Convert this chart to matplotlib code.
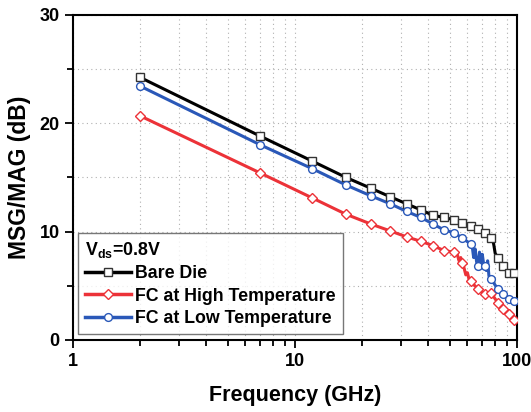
import matplotlib
matplotlib.use("Agg")
import matplotlib.pyplot as plt
from matplotlib.ticker import FixedLocator, FixedFormatter, LogLocator, NullFormatter

plt.rcParams['font.family'] = ['Liberation Sans', 'DejaVu Sans']
plt.rcParams['font.weight'] = 'bold'
plt.rcParams['mathtext.fontset'] = 'custom'
plt.rcParams['mathtext.bf'] = 'Liberation Sans:bold'
plt.rcParams['mathtext.rm'] = 'Liberation Sans:bold'

# marker points (every 5 GHz from 2 GHz)
freq_mk = [2, 7, 12, 17, 22, 27, 32, 37, 42, 47, 52, 57, 62, 67, 72, 77, 82, 87, 92, 97]
bare_mk = [24.25, 18.8, 16.5, 15.0, 14.0, 13.2, 12.55, 12.0, 11.5, 11.3,
           11.1, 10.8, 10.5, 10.2, 9.85, 9.45, 7.6, 6.8, 6.2, 6.2]
high_mk = [20.7, 15.4, 13.1, 11.6, 10.7, 10.05, 9.5, 9.1, 8.7, 8.25,
           8.1, 7.1, 5.4, 4.7, 4.25, 4.3, 3.45, 2.85, 2.35, 1.85]
low_mk = [23.45, 18.0, 15.8, 14.3, 13.3, 12.55, 11.85, 11.3, 10.7, 10.15,
          9.9, 9.4, 8.85, 6.8, 6.8, 5.6, 4.7, 4.25, 3.8, 3.6]

# extra trace points between markers (noisy part near the top end)
bare_xf = [78, 79, 80, 100]
bare_xv = [9.3, 8.7, 8.0, 6.2]
high_xf = [54, 55, 56, 58, 59, 60, 61, 100]
high_xv = [7.9, 7.3, 7.6, 6.6, 6.0, 6.2, 5.6, 1.6]
low_xf = [63, 64, 65, 66, 68, 69, 70, 71, 73, 74, 75, 100]
low_xv = [8.7, 7.6, 8.4, 7.2, 8.1, 6.9, 7.9, 7.0, 6.4, 7.3, 5.9, 3.4]

names = ['Bare Die', 'FC at High Temperature', 'FC at Low Temperature']
colors = ['black', '#ec3238', '#2a58b8']
edges = ['#333333', '#ec3238', '#2a58b8']
markers = ['s', 'D', 'o']
msizes = [5.6, 4.8, 5.6]

fig = plt.figure(figsize=(5.31, 4.12), dpi=100)
ax = fig.add_axes([0.137, 0.175, 0.836, 0.789])

series = [(bare_mk, bare_xf, bare_xv), (high_mk, high_xf, high_xv), (low_mk, low_xf, low_xv)]
for (mk, xf, xv), name, c, ec, m, ms in zip(series, names, colors, edges, markers, msizes):
    pts = sorted(list(zip(freq_mk, mk)) + list(zip(xf, xv)))
    ax.plot([p[0] for p in pts], [p[1] for p in pts], color=c, lw=2.2, zorder=2)
    ax.plot(freq_mk, mk, ls='none', marker=m, ms=ms, mfc='white', mec=ec, mew=1.0, zorder=3)
    ax.plot([], [], color=c, lw=2.5, marker=m, ms=ms, mfc='white', mec=ec, mew=1.0, label=name)

ax.set_xscale('log')
ax.set_xlim(1, 100)
ax.set_ylim(0, 30)
ax.xaxis.set_major_locator(FixedLocator([1, 10, 100]))
ax.xaxis.set_major_formatter(FixedFormatter(['1', '10', '100']))
ax.xaxis.set_minor_locator(LogLocator(base=10, subs=range(2, 10)))
ax.xaxis.set_minor_formatter(NullFormatter())
ax.set_yticks([0, 10, 20, 30])
ax.set_yticks([5, 15, 25], minor=True)

ax.tick_params(which='both', direction='out', top=False, right=False, width=1.3, labelsize=13)
ax.tick_params(which='major', length=6)
ax.tick_params(which='minor', length=4)
for s in ax.spines.values():
    s.set_linewidth(1.5)

ax.grid(True, which='both', color='#b0b0b0', ls=(0, (1, 3)), lw=0.8)
ax.set_axisbelow(True)

ax.set_xlabel('Frequency (GHz)', fontsize=15.5, fontweight='bold', labelpad=11)
ax.set_ylabel('MSG/MAG (dB)', fontsize=16.5, fontweight='bold', labelpad=6)

leg = ax.legend(loc='lower left', bbox_to_anchor=(0.012, 0.018), fontsize=12.8,
                title=r'V$_{\mathbf{ds}}$=0.8V', title_fontsize=12.8, alignment='left',
                fancybox=False, edgecolor='#555555', handlelength=2.6, handletextpad=0.2,
                borderpad=0.4, labelspacing=0.3, borderaxespad=0.0)
leg.get_frame().set_linewidth(1.0)
leg.get_title().set_fontweight('bold')

fig.savefig('out.png', dpi=100)
